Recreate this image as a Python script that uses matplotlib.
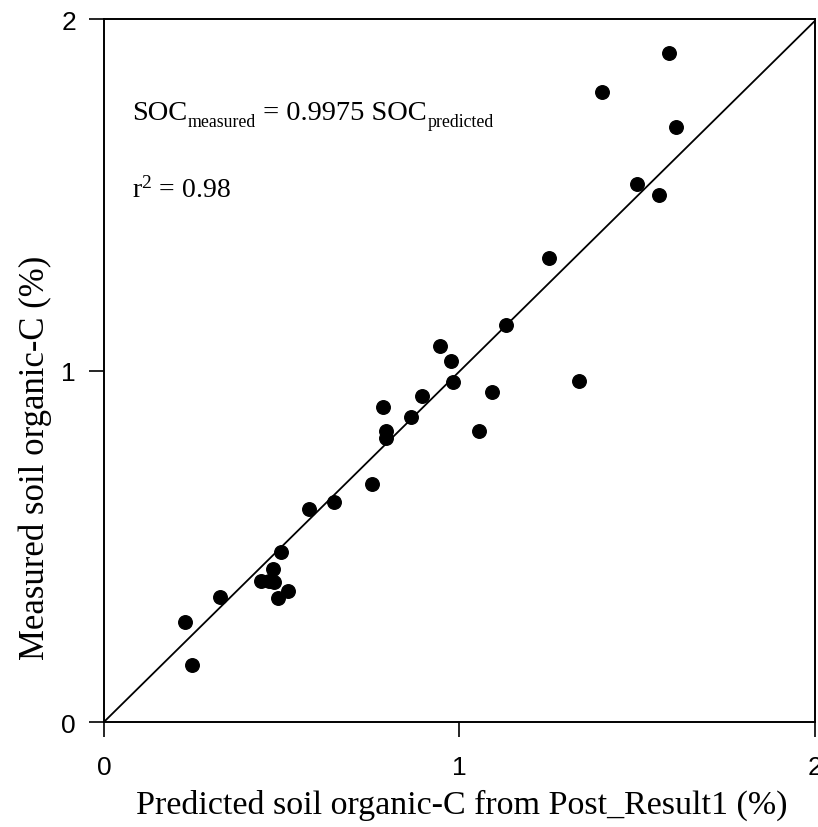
import matplotlib
matplotlib.use("Agg")
import matplotlib.pyplot as plt
import numpy as np

predicted = [0.228, 0.248, 0.327, 0.442, 0.465, 0.479, 0.476, 0.499, 0.518, 0.490,
             0.577, 0.648, 0.755, 0.786, 0.794, 0.794, 0.865, 0.896, 0.944, 0.975,
             0.983, 1.054, 1.093, 1.132, 1.251, 1.335, 1.499, 1.561, 1.400, 1.589, 1.608]
measured = [0.285, 0.162, 0.356, 0.401, 0.401, 0.398, 0.435, 0.484, 0.373, 0.353,
            0.606, 0.626, 0.677, 0.896, 0.828, 0.808, 0.868, 0.927, 1.070, 1.027,
            0.967, 0.828, 0.939, 1.129, 1.320, 0.970, 1.531, 1.499, 1.792, 1.903, 1.693]
slope = 0.9975
ticks = [0, 1, 2]
tick_labels = ["0", "1", "2"]

plt.rcParams['mathtext.fontset'] = 'custom'
plt.rcParams['mathtext.rm'] = 'Liberation Serif'
plt.rcParams['mathtext.it'] = 'Liberation Serif:italic'

fig = plt.figure(figsize=(8.18, 8.28), dpi=100)
ax = fig.add_axes([0.127, 0.1268, 0.8693, 0.849])

fit_x = np.array([0, 2])
ax.plot(fit_x, slope * fit_x, color='black', lw=1.3)
ax.scatter(predicted, measured, s=95, color='black', zorder=3, clip_on=False)

ax.set_xlim(0, 2)
ax.set_ylim(0, 2)
ax.set_xticks(ticks)
ax.set_xticklabels(tick_labels)
ax.set_yticks(ticks)
ax.set_yticklabels(tick_labels)
for sp in ax.spines.values():
    sp.set_linewidth(1.4)
ax.tick_params(axis='x', direction='out', length=11, width=1.2, pad=13,
               labelsize=19, labelfontfamily='Liberation Sans')
ax.tick_params(axis='y', direction='out', length=11, width=1.2, pad=9,
               labelsize=19, labelfontfamily='Liberation Sans')

ax.set_xlabel("Predicted soil organic-C from Post_Result1 (%)",
              fontfamily='Liberation Serif', fontsize=24.5)
ax.xaxis.set_label_coords(0.503, -0.095)
ax.set_ylabel("Measured soil organic-C (%)", fontfamily='Liberation Serif', fontsize=25)
ax.yaxis.set_label_coords(-0.073, 0.377)

# Equation built from pieces (large text with smaller, dropped subscripts)
big, small = 20.5, 12.8
d_big, d_small = 0.217 * big, 0.217 * small
drop = 5.0
serif = 'Liberation Serif'
t1 = ax.text(0.079, 1.715, "SOC", fontfamily=serif, fontsize=big,
             va='baseline', ha='left')
t2 = ax.annotate("measured", xy=(1, 0), xycoords=t1, xytext=(0.5, d_big - drop),
                 textcoords='offset points', fontfamily=serif, fontsize=small,
                 va='baseline', ha='left')
t3 = ax.annotate(" = 0.9975 SOC", xy=(1, 0), xycoords=t2, xytext=(0, d_small + drop),
                 textcoords='offset points', fontfamily=serif, fontsize=big,
                 va='baseline', ha='left')
t4 = ax.annotate("predicted", xy=(1, 0), xycoords=t3, xytext=(0.5, d_big - drop),
                 textcoords='offset points', fontfamily=serif, fontsize=small,
                 va='baseline', ha='left')

ax.text(0.079, 1.496, r"r$^{2}$ = 0.98",
        fontfamily=serif, fontsize=20, va='baseline', ha='left')

fig.savefig("out.png", dpi=100)
